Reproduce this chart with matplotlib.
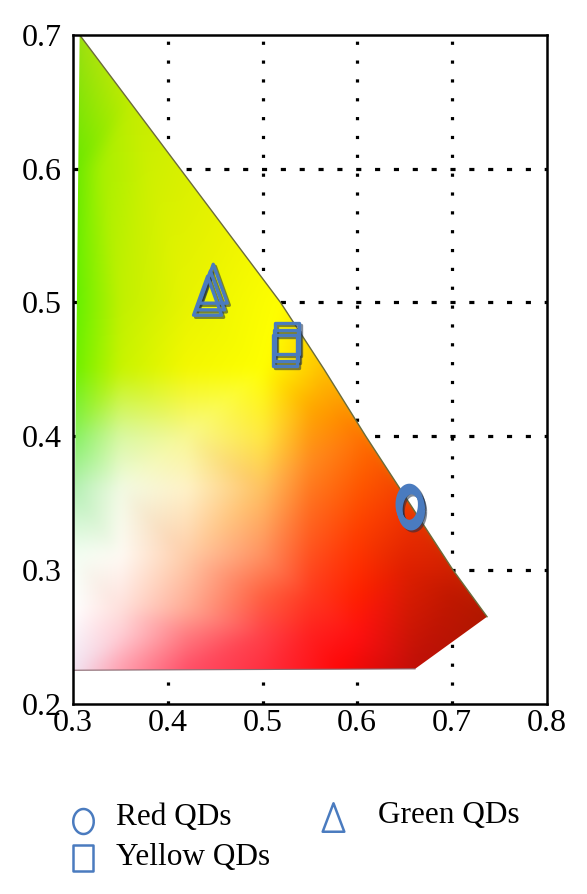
import numpy as np
import matplotlib
matplotlib.use("Agg")
import matplotlib.pyplot as plt
from matplotlib.path import Path
from matplotlib.patches import PathPatch
from matplotlib.lines import Line2D
import matplotlib.tri as mtri
import matplotlib.patheffects as pe
from matplotlib.colors import to_rgb

# ---------------- data ----------------
# spectral-locus boundary of the visible gamut (as drawn in the figure)
locus_x = [0.307, 0.360, 0.413, 0.466, 0.519, 0.565, 0.609, 0.655, 0.701, 0.737]
locus_y = [0.700, 0.650, 0.600, 0.550, 0.500, 0.450, 0.400, 0.350, 0.300, 0.265]
# bottom cut of the diagram
bottom_x = [0.661, 0.300]
bottom_y = [0.226, 0.225]

# colour samples inside the gamut
anch_x = [0.300, 0.307, 0.360, 0.413, 0.466, 0.519, 0.565, 0.609, 0.655, 0.701, 0.737, 0.661,
          0.300, 0.330, 0.380,
          0.300, 0.350, 0.420,
          0.300, 0.350, 0.420, 0.500,
          0.300, 0.350, 0.420, 0.500, 0.550,
          0.300, 0.350, 0.420, 0.500, 0.550,
          0.300, 0.350, 0.420, 0.500, 0.550, 0.600,
          0.300, 0.350, 0.420, 0.500, 0.550, 0.600, 0.650,
          0.350, 0.420, 0.500, 0.550, 0.600, 0.700,
          0.350, 0.420, 0.500, 0.580, 0.300]
anch_y = [0.700, 0.700, 0.650, 0.600, 0.550, 0.500, 0.450, 0.400, 0.350, 0.300, 0.265, 0.226,
          0.600, 0.600, 0.600,
          0.500, 0.500, 0.500,
          0.450, 0.450, 0.450, 0.450,
          0.400, 0.400, 0.400, 0.400, 0.420,
          0.360, 0.360, 0.360, 0.360, 0.380,
          0.310, 0.310, 0.310, 0.310, 0.350, 0.330,
          0.270, 0.270, 0.270, 0.280, 0.280, 0.280, 0.300,
          0.250, 0.250, 0.250, 0.250, 0.250, 0.280,
          0.226, 0.226, 0.226, 0.226, 0.226]
anch_c = ['#86de18', '#a0e010', '#c0ec00', '#d8f000', '#eef400', '#ffff00', '#ffc000', '#ff7000',
          '#f03800', '#d02000', '#b01800', '#c01008',
          '#66e800', '#a8f000', '#cef000',
          '#60f000', '#c0f000', '#e8f400',
          '#6cf000', '#c8f400', '#f4f800', '#ffff00',
          '#84f060', '#d8f8a0', '#f8f890', '#ffe840', '#ffa800',
          '#b4f0b4', '#f2fae4', '#fff2c8', '#ffc060', '#ff8a20',
          '#f4fff4', '#fffaf4', '#ffcca8', '#ff9060', '#ff7020', '#ff4000',
          '#ffffff', '#ffe0dc', '#ffaa94', '#ff6040', '#ff3a20', '#ff2000', '#e02000',
          '#ffccd4', '#ff7a80', '#ff4048', '#ff2020', '#ff1010', '#c01800',
          '#ffa0b0', '#ff5068', '#ff3040', '#ff0808', '#f2e4f2']

# quantum-dot chromaticity coordinates
red_x = [0.655, 0.656, 0.657]
red_y = [0.349, 0.347, 0.345]
yellow_x = [0.526, 0.525, 0.524]
yellow_y = [0.473, 0.468, 0.464]
green_x = [0.448, 0.445, 0.442]
green_y = [0.514, 0.509, 0.505]

xticks = [0.3, 0.4, 0.5, 0.6, 0.7, 0.8]
yticks = [0.2, 0.3, 0.4, 0.5, 0.6, 0.7]
xtick_labels = ['0.3', '0.4', '0.5', '0.6', '0.7', '0.8']
ytick_labels = ['0.2', '0.3', '0.4', '0.5', '0.6', '0.7']
labels = ['Red QDs', 'Yellow QDs', 'Green QDs']

# ---------------- figure ----------------
plt.rcParams['font.family'] = ['Liberation Serif', 'DejaVu Serif']
fig = plt.figure(figsize=(5.87, 8.94), dpi=100)
ax = fig.add_axes([0.1244, 0.2129, 0.9314 - 0.1244, 0.9609 - 0.2129])
ax.set_xlim(0.3, 0.8)
ax.set_ylim(0.2, 0.7)

# dotted grid
for gx in [0.4, 0.5, 0.6, 0.7]:
    ax.axvline(gx, color='black', lw=2.3, ls=(0, (1, 4.9)), zorder=0.5)
for gy in [0.3, 0.4, 0.5, 0.6]:
    ax.axhline(gy, color='black', lw=2.3, ls=(0, (1.6, 4.3)), zorder=0.5)

# gamut image
tri = mtri.Triangulation(anch_x, anch_y)
rgb = np.array([to_rgb(c) for c in anch_c])
x0, x1, y0, y1 = 0.29, 0.75, 0.21, 0.71
gx_, gy_ = np.meshgrid(np.linspace(x0, x1, 460), np.linspace(y0, y1, 500))
img = np.zeros(gx_.shape + (3,))
valid = None
for k in range(3):
    interp = mtri.LinearTriInterpolator(tri, rgb[:, k])
    v = interp(gx_, gy_)
    valid = ~np.ma.getmaskarray(v)
    img[..., k] = np.clip(np.ma.filled(v, 0.0), 0, 1)

# extend colours outward into the masked area (so edges are not whitened by blur)
filled = valid.copy()
for _ in range(40):
    if filled.all():
        break
    acc = np.zeros_like(img)
    cnt = np.zeros(filled.shape)
    for dy, dx in [(-1, 0), (1, 0), (0, -1), (0, 1)]:
        sh_f = np.roll(filled, (dy, dx), axis=(0, 1))
        sh_i = np.roll(img, (dy, dx), axis=(0, 1))
        acc += sh_i * sh_f[..., None]
        cnt += sh_f
    new = (~filled) & (cnt > 0)
    img[new] = acc[new] / cnt[new][:, None]
    filled = filled | new
img[~filled] = 1.0

def blur(a, n=11):
    ker = np.ones(n) / n
    out = np.apply_along_axis(lambda m: np.convolve(np.pad(m, n // 2, mode='edge'), ker, 'valid'), 0, a)
    out = np.apply_along_axis(lambda m: np.convolve(np.pad(m, n // 2, mode='edge'), ker, 'valid'), 1, out)
    return out
for k in range(3):
    img[..., k] = blur(blur(img[..., k]))
im = ax.imshow(np.clip(img, 0, 1), origin='lower', extent=(x0, x1, y0, y1), aspect='auto',
               interpolation='bilinear', zorder=1)
poly_x = locus_x + bottom_x
poly_y = locus_y + bottom_y
verts = list(zip(poly_x, poly_y)) + [(poly_x[0], poly_y[0])]
clip = PathPatch(Path(verts, closed=True), transform=ax.transData, facecolor='none', edgecolor='none')
ax.add_patch(clip)
im.set_clip_path(clip)
ax.plot(locus_x, locus_y, color='#6b6b3a', lw=1.0, zorder=2)
ax.plot(bottom_x, bottom_y, color='#8a6870', lw=0.8, zorder=2)

# markers (tall shapes)
def ellipse_path(w):
    t = np.linspace(0, 2 * np.pi, 60)
    return Path(np.c_[w * np.cos(t), np.sin(t)])
ring = ellipse_path(0.62)
ring_leg = ellipse_path(0.82)
rect = Path([(-0.78, -1), (0.78, -1), (0.78, 1), (-0.78, 1), (-0.78, -1)], closed=True)
trim = Path([(-0.72, -1), (0.72, -1), (0, 1), (-0.72, -1)], closed=True)
trim_leg = Path([(-0.76, -1), (0.76, -1), (0, 1), (-0.76, -1)], closed=True)

mc = '#4a7bbf'
shadow = [pe.SimpleLineShadow(offset=(1.5, -1.5), shadow_color='#1c2c44', alpha=0.55), pe.Normal()]
ax.plot(red_x, red_y, ls='none', marker=ring, ms=26, mfc='none', mec=mc, mew=3.8,
        path_effects=shadow, zorder=4)
ax.plot(yellow_x, yellow_y, ls='none', marker=rect, ms=22, mfc='none', mec=mc, mew=2.4,
        path_effects=shadow, zorder=4)
ax.plot(green_x, green_y, ls='none', marker=trim, ms=28, mfc='none', mec=mc, mew=2.4,
        path_effects=shadow, zorder=4)

ax.set_xticks(xticks)
ax.set_xticklabels(xtick_labels)
ax.set_yticks(yticks)
ax.set_yticklabels(ytick_labels)
ax.tick_params(length=0, labelsize=23, colors='black')
ax.tick_params(axis='x', pad=4)
ax.tick_params(axis='y', pad=8)
for s in ax.spines.values():
    s.set_linewidth(1.8)
    s.set_color('black')
    s.set_zorder(5)

# legend
lw_leg = 1.8
fig.add_artist(Line2D([82.5 / 587], [1 - 821 / 894], ls='none', marker=ring_leg, ms=18, mfc='none',
                      mec=mc, mew=lw_leg, transform=fig.transFigure))
fig.add_artist(Line2D([82.5 / 587], [1 - 858 / 894], ls='none', marker=rect, ms=18.5, mfc='none',
                      mec=mc, mew=lw_leg, transform=fig.transFigure))
fig.add_artist(Line2D([333 / 587], [1 - 816.5 / 894], ls='none', marker=trim_leg, ms=20.5, mfc='none',
                      mec=mc, mew=lw_leg, transform=fig.transFigure))
fig.text(116 / 587, 1 - 818 / 894, labels[0], fontsize=22.5, va='center', ha='left')
fig.text(116 / 587, 1 - 857 / 894, labels[1], fontsize=22.5, va='center', ha='left')
fig.text(378 / 587, 1 - 816 / 894, labels[2], fontsize=22.5, va='center', ha='left')

fig.savefig('out.png', dpi=100)
